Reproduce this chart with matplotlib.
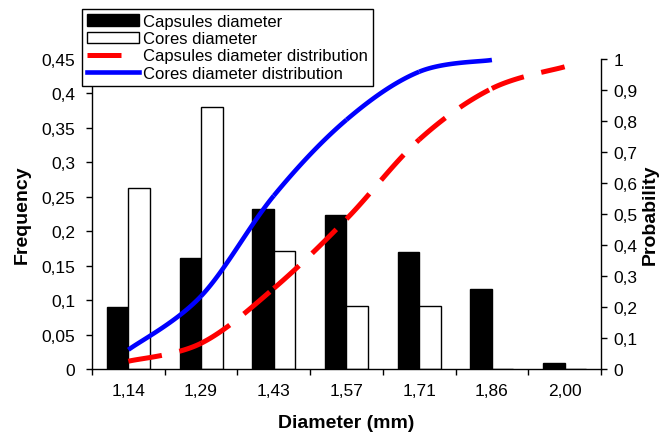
import numpy as np
import matplotlib
matplotlib.use("Agg")
import matplotlib.pyplot as plt
from matplotlib.patches import Patch
from matplotlib.lines import Line2D

plt.rcParams['font.family'] = ['Liberation Sans', 'DejaVu Sans']

# dados
diametros = ['1,14', '1,29', '1,43', '1,57', '1,71', '1,86', '2,00']
freq_capsulas = [0.090, 0.161, 0.232, 0.223, 0.170, 0.116, 0.009]
freq_nucleos = [0.263, 0.381, 0.172, 0.091, 0.091, 0.0, 0.0]
prob_capsulas = [0.025, 0.083, 0.260, 0.484, 0.740, 0.905, 0.975]
prob_nucleos = [0.062, 0.235, 0.559, 0.804, 0.959, 0.997]

ticks_freq = [0, 0.05, 0.1, 0.15, 0.2, 0.25, 0.3, 0.35, 0.4, 0.45]
rotulos_freq = ['0', '0,05', '0,1', '0,15', '0,2', '0,25', '0,3', '0,35', '0,4', '0,45']
ticks_prob = [0, 0.1, 0.2, 0.3, 0.4, 0.5, 0.6, 0.7, 0.8, 0.9, 1.0]
rotulos_prob = ['0', '0,1', '0,2', '0,3', '0,4', '0,5', '0,6', '0,7', '0,8', '0,9', '1']


def curva_suave(xs, ys, n=40):
    """Segmentos de Bezier (estilo Excel) entre pontos consecutivos."""
    xs = np.asarray(xs, float)
    ys = np.asarray(ys, float)
    px = np.concatenate([[xs[0]], xs, [xs[-1]]])
    py = np.concatenate([[ys[0]], ys, [ys[-1]]])
    t = np.linspace(0, 1, n)
    segs = []
    for i in range(1, len(px) - 2):
        p0 = np.array([px[i], py[i]])
        p3 = np.array([px[i + 1], py[i + 1]])
        c1 = p0 + (np.array([px[i + 1], py[i + 1]]) - np.array([px[i - 1], py[i - 1]])) / 6
        c2 = p3 - (np.array([px[i + 2], py[i + 2]]) - np.array([px[i], py[i]])) / 6
        b = ((1 - t) ** 3)[:, None] * p0 + (3 * (1 - t) ** 2 * t)[:, None] * c1 \
            + (3 * (1 - t) * t ** 2)[:, None] * c2 + (t ** 3)[:, None] * p3
        segs.append(b)
    return segs


fig = plt.figure(figsize=(6.72, 4.35), dpi=100)
ax = fig.add_axes([0.1369, 0.1494, 0.7574, 0.7126])

x = np.arange(len(diametros))
w = 0.296
ax.bar(x - w / 2, freq_capsulas, width=w, color='black', edgecolor='black', linewidth=1)
ax.bar(x + w / 2, freq_nucleos, width=w, color='white', edgecolor='black', linewidth=1)

ax.set_xlim(-0.5, len(diametros) - 0.5)
ax.set_ylim(0, 0.45)
ax.set_xticks(x)
ax.set_xticklabels(diametros)
ax.set_xticks(np.arange(len(diametros) + 1) - 0.5, minor=True)
ax.tick_params(axis='x', which='major', length=0, pad=10, labelsize=12.5)
ax.tick_params(axis='x', which='minor', length=4, width=1, direction='out')
ax.set_yticks(ticks_freq)
ax.set_yticklabels(rotulos_freq)
ax.tick_params(axis='y', length=4, width=1, direction='out', pad=8, labelsize=12.5)
for s in ['top', 'right']:
    ax.spines[s].set_visible(False)
for s in ['left', 'bottom']:
    ax.spines[s].set_linewidth(1)

ax2 = ax.twinx()
ax2.set_ylim(0, 1)
ax2.set_yticks(ticks_prob)
ax2.set_yticklabels(rotulos_prob)
ax2.tick_params(axis='y', length=4, width=1, direction='out', pad=5, labelsize=12.5)
for s in ['top', 'left', 'bottom']:
    ax2.spines[s].set_visible(False)
ax2.spines['right'].set_linewidth(1)

for seg in curva_suave(x[:len(prob_capsulas)], prob_capsulas):
    ax2.plot(seg[:, 0], seg[:, 1], color='red', linewidth=3.6, dashes=(6.8, 3.6),
             dash_capstyle='butt', clip_on=False)
for seg in curva_suave(x[:len(prob_nucleos)], prob_nucleos):
    ax2.plot(seg[:, 0], seg[:, 1], color='blue', linewidth=3.3,
             solid_capstyle='butt', clip_on=False)

ax.set_xlabel('Diameter (mm)', fontsize=14, fontweight='bold', va='center')
ax.xaxis.set_label_coords(0.5, -0.171)
ax.set_ylabel('Frequency', fontsize=14, fontweight='bold', va='center')
ax.yaxis.set_label_coords(-0.1375, 0.5)
ax2.set_ylabel('Probability', fontsize=14, fontweight='bold', va='center', rotation=90)
ax2.yaxis.set_label_coords(1.096, 0.5)

handles = [
    Patch(facecolor='black', edgecolor='black'),
    Patch(facecolor='white', edgecolor='black'),
    Line2D([], [], color='red', linewidth=3.6, dashes=(6.8, 3.6), dash_capstyle='butt'),
    Line2D([], [], color='blue', linewidth=3.3),
]
labels = ['Capsules diameter', 'Cores diameter',
          'Capsules diameter distribution', 'Cores diameter distribution']
leg = fig.legend(handles, labels, loc='upper left', bbox_to_anchor=(0.122, 0.977),
                 fontsize=12, frameon=True, fancybox=False, framealpha=1,
                 edgecolor='black', handlelength=3.1, handletextpad=0.25,
                 labelspacing=0.13, borderpad=0.3, borderaxespad=0)
leg.get_frame().set_linewidth(1)

fig.savefig('out.png', dpi=100)
